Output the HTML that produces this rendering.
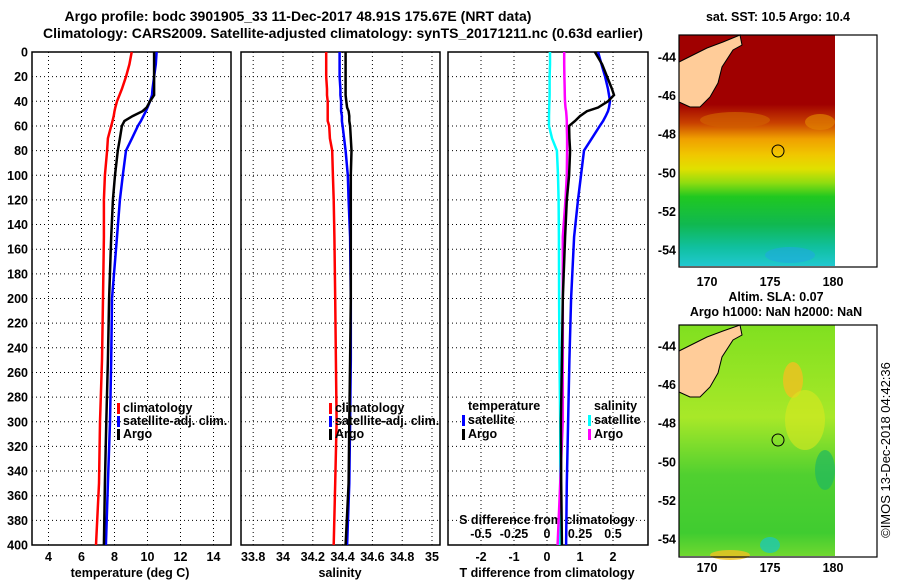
<!DOCTYPE html>
<html><head><meta charset="utf-8"><style>
body{margin:0;background:#fff}
svg{display:block;font-family:"Liberation Sans",sans-serif;font-weight:bold}
text{font-size:12.5px}
</style></head><body>
<svg id="c" width="900" height="580" viewBox="0 0 900 580">
<defs>
<linearGradient id="sst" x1="0" y1="35" x2="0" y2="266" gradientUnits="userSpaceOnUse">
<stop offset="0" stop-color="#a00000"/><stop offset="0.3" stop-color="#a00000"/>
<stop offset="0.38" stop-color="#c84000"/><stop offset="0.45" stop-color="#f0a000"/>
<stop offset="0.52" stop-color="#f0c800"/><stop offset="0.58" stop-color="#e0e000"/>
<stop offset="0.64" stop-color="#90dc10"/><stop offset="0.7" stop-color="#20c820"/>
<stop offset="0.82" stop-color="#10b850"/><stop offset="0.92" stop-color="#10c0a0"/>
<stop offset="1" stop-color="#20c8d0"/></linearGradient>
<linearGradient id="sla" x1="0" y1="325" x2="0" y2="556" gradientUnits="userSpaceOnUse">
<stop offset="0" stop-color="#80e020"/><stop offset="0.4" stop-color="#a8e828"/>
<stop offset="0.65" stop-color="#50d030"/><stop offset="0.9" stop-color="#40cc30"/>
<stop offset="1" stop-color="#70d830"/></linearGradient>
</defs>
<g id="titles">
<text x="298" y="21" text-anchor="middle" style="font-size:14px">Argo profile: bodc 3901905_33 11-Dec-2017 48.91S 175.67E (NRT data)</text>
<text x="343" y="38" text-anchor="middle" style="font-size:14px">Climatology: CARS2009. Satellite-adjusted climatology: synTS_20171211.nc (0.63d earlier)</text>
</g>
<g id="panels"></g>
<g id="maps">
<g>
<text x="778" y="21" text-anchor="middle">sat. SST: 10.5 Argo: 10.4</text>
<rect x="679" y="35" width="156" height="231" fill="url(#sst)"/>
<ellipse cx="735" cy="120" rx="35" ry="8" fill="#d06000" opacity="0.7"/>
<ellipse cx="820" cy="122" rx="15" ry="8" fill="#e08000" opacity="0.7"/>
<ellipse cx="790" cy="255" rx="25" ry="8" fill="#20a8e0" opacity="0.6"/>
<polygon points="679,62 693,55 707,48 723,42 740,35 742,45 733,50 722,67 718,83 710,97 700,107 690,107 679,102" fill="#ffcc99" stroke="#000" stroke-width="1"/>
<circle cx="778" cy="151" r="6" fill="none" stroke="#000" stroke-width="1"/>
<rect x="679" y="35" width="198" height="232" fill="none" stroke="#000" stroke-width="1.2"/>
</g>
<g>
<text x="776" y="301" text-anchor="middle">Altim. SLA: 0.07</text>
<text x="776" y="316" text-anchor="middle">Argo h1000: NaN h2000: NaN</text>
<rect x="679" y="325" width="156" height="231" fill="url(#sla)"/>
<ellipse cx="793" cy="380" rx="10" ry="18" fill="#f0c020" opacity="0.8"/>
<ellipse cx="805" cy="420" rx="20" ry="30" fill="#d8e820" opacity="0.6"/>
<ellipse cx="825" cy="470" rx="10" ry="20" fill="#20b860" opacity="0.7"/>
<ellipse cx="770" cy="545" rx="10" ry="8" fill="#20c8b0" opacity="0.8"/>
<ellipse cx="730" cy="555" rx="20" ry="5" fill="#f0c020" opacity="0.8"/>
<polygon points="679,351 693,344 707,337 723,331 740,325 742,335 733,340 722,357 718,373 710,387 700,397 690,397 679,392" fill="#ffcc99" stroke="#000" stroke-width="1"/>
<circle cx="778" cy="440" r="6" fill="none" stroke="#000" stroke-width="1"/>
<rect x="679" y="325" width="198" height="232" fill="none" stroke="#000" stroke-width="1.2"/>
</g>
<text transform="translate(890,450) rotate(-90)" text-anchor="middle" style="font-weight:normal;font-size:13px">©IMOS 13-Dec-2018 04:42:36</text>
</g>
</svg>
<script>
const depths=[0,10,20,30,35,40,45,48,52,56,60,70,80,100,120,150,200,250,300,350,400];
const tClim=[9.04,8.9,8.7,8.45,8.3,8.15,8.05,8.0,7.95,7.88,7.8,7.6,7.55,7.42,7.36,7.36,7.3,7.24,7.12,7.06,6.88];
const tSat=[10.55,10.5,10.4,10.3,10.27,10.15,10.0,9.9,9.75,9.6,9.42,9.06,8.7,8.5,8.33,8.15,7.85,7.8,7.73,7.6,7.48];
const tArgo=[10.4,10.4,10.4,10.4,10.4,10.15,9.95,9.7,9.1,8.6,8.45,8.33,8.2,8.03,7.9,7.8,7.67,7.6,7.5,7.42,7.36];
const sClim=[34.29,34.29,34.29,34.295,34.295,34.3,34.3,34.3,34.3,34.3,34.31,34.315,34.33,34.335,34.34,34.345,34.35,34.355,34.36,34.35,34.34];
const sSat=[34.38,34.38,34.38,34.385,34.385,34.39,34.39,34.39,34.395,34.395,34.4,34.41,34.42,34.435,34.44,34.45,34.455,34.455,34.45,34.445,34.43];
const sArgo=[34.42,34.42,34.42,34.42,34.42,34.425,34.43,34.44,34.445,34.445,34.45,34.455,34.46,34.455,34.455,34.455,34.455,34.45,34.445,34.44,34.42];
const dTSat=[1.55,1.65,1.76,1.85,1.88,1.91,1.88,1.85,1.78,1.7,1.6,1.36,1.12,1.03,0.94,0.82,0.73,0.68,0.64,0.6,0.58];
const dTArgo=[1.45,1.67,1.82,1.97,2.03,1.85,1.55,1.21,1.0,0.85,0.67,0.68,0.7,0.67,0.6,0.55,0.48,0.45,0.42,0.43,0.45];
const dSSat=[0.023,0.023,0.02,0.02,0.02,0.018,0.017,0.016,0.015,0.015,0.015,0.038,0.075,0.083,0.088,0.09,0.092,0.095,0.1,0.1,0.095];
const dSArgo=[0.13,0.13,0.132,0.134,0.135,0.136,0.14,0.145,0.148,0.15,0.15,0.152,0.152,0.15,0.14,0.12,0.12,0.12,0.12,0.1,0.08];
const depthTicks=[0,20,40,60,80,100,120,140,160,180,200,220,240,260,280,300,320,340,360,380,400];
const tTicks=[4,6,8,10,12,14];
const sTicks=["33.8","34","34.2","34.4","34.6","34.8","35"];
const dTTicks=[-2,-1,0,1,2];
const dSTicks=["-0.5","-0.25","0","0.25","0.5"];
const lonTicks=[170,175,180];
const latTicks=[-44,-46,-48,-50,-52,-54];

const NS='http://www.w3.org/2000/svg';
const P=document.getElementById('panels');
function el(tag,attrs,parent){const e=document.createElementNS(NS,tag);for(const k in attrs)e.setAttribute(k,attrs[k]);(parent||P).appendChild(e);return e;}
function txt(x,y,s,anchor,parent){const t=el('text',{x:x,y:y,'text-anchor':anchor||'middle'},parent);t.textContent=s;return t;}
const yD=d=>52+d*1.2325;
const xT=t=>32+(t-3)*16.5;
const xS=s=>283+(s-34)*149;
const xdT=v=>547+v*33;
const xdS=v=>547+v*132;
const panels=[[32,231],[241,440],[448,648]];
function grid(x0,x1,xs){
  xs.forEach(x=>{const l=el('line',{x1:x,x2:x,y1:52,y2:545,stroke:'#000','stroke-width':1,'stroke-dasharray':'1,3'});
  
  });
  depthTicks.forEach(d=>{if(d===0||d===400)return;const l=el('line',{x1:x0,x2:x1,y1:yD(d),y2:yD(d),stroke:'#000','stroke-width':1,'stroke-dasharray':'1,3'});
  
  });
}
grid(32,231,tTicks.map(xT));
grid(241,440,sTicks.map(s=>xS(+s)));
grid(448,648,dTTicks.map(xdT));
panels.forEach((p,i)=>{const r=el('rect',{x:p[0],y:52,width:p[1]-p[0],height:493,fill:'none',stroke:'#000','stroke-width':1.5});

});
depthTicks.forEach(d=>{const t=txt(28,yD(d)+4.5,String(d),'end');

});
tTicks.forEach(v=>{const t=txt(xT(v),561,String(v));

});
sTicks.forEach(v=>{const t=txt(xS(+v),561,v);

});
dTTicks.forEach(v=>{const t=txt(xdT(v),561,String(v));

});
dSTicks.forEach(v=>{const t=txt(xdS(+v),538,v);

});
let a=txt(130,577,'temperature (deg C)');
a=txt(340,577,'salinity');
a=txt(547,577,'T difference from climatology');
a=txt(547,524,'S difference from climatology');

function line(vals,xf,color,name,w){
  const pts=vals.map((v,i)=>xf(v).toFixed(1)+','+yD(depths[i]).toFixed(1)).join(' ');
  const l=el('polyline',{points:pts,fill:'none',stroke:color,'stroke-width':w||2.5});
  
  
}
line(tClim,xT,'#f00','temp-climatology-line');
line(tSat,xT,'#00f','temp-satellite-line');
line(tArgo,xT,'#000','temp-argo-line');
line(sClim,xS,'#f00','sal-climatology-line');
line(sSat,xS,'#00f','sal-satellite-line');
line(sArgo,xS,'#000','sal-argo-line');
line(dSSat,xdS,'#0ff','s-diff-satellite-line');
line(dSArgo,xdS,'#f0f','s-diff-argo-line');
line(dTSat,xdT,'#00f','t-diff-satellite-line');
line(dTArgo,xdT,'#000','t-diff-argo-line');

function legend(x,y,color,label){
  const g=el('g',{});
  
  
  if(color)el('rect',{x:x-6,y:y-9,width:3,height:11,fill:color},g);
  txt(x,y,label,'start',g);
}
legend(123,412,'#f00','climatology');legend(123,425,'#00f','satellite-adj. clim.');legend(123,438,'#000','Argo');
legend(335,412,'#f00','climatology');legend(335,425,'#00f','satellite-adj. clim.');legend(335,438,'#000','Argo');
legend(468,410,null,'temperature');legend(468,424,'#00f','satellite');legend(468,438,'#000','Argo');
legend(594,410,null,'salinity');legend(594,424,'#0ff','satellite');legend(594,438,'#f0f','Argo');

const M=document.getElementById('maps');
const xLon=l=>707+(l-170)*12.6;
[[57,286],[346,572]].forEach(([lat44,ly])=>{
  lonTicks.forEach(l=>{const t=txt(xLon(l),ly,String(l),'middle',M);
  
  });
  latTicks.forEach(la=>{const t=txt(676,lat44+(-44-la)*19.3+4.5,String(la),'end',M);
  
  });
});
</script>
</body></html>
